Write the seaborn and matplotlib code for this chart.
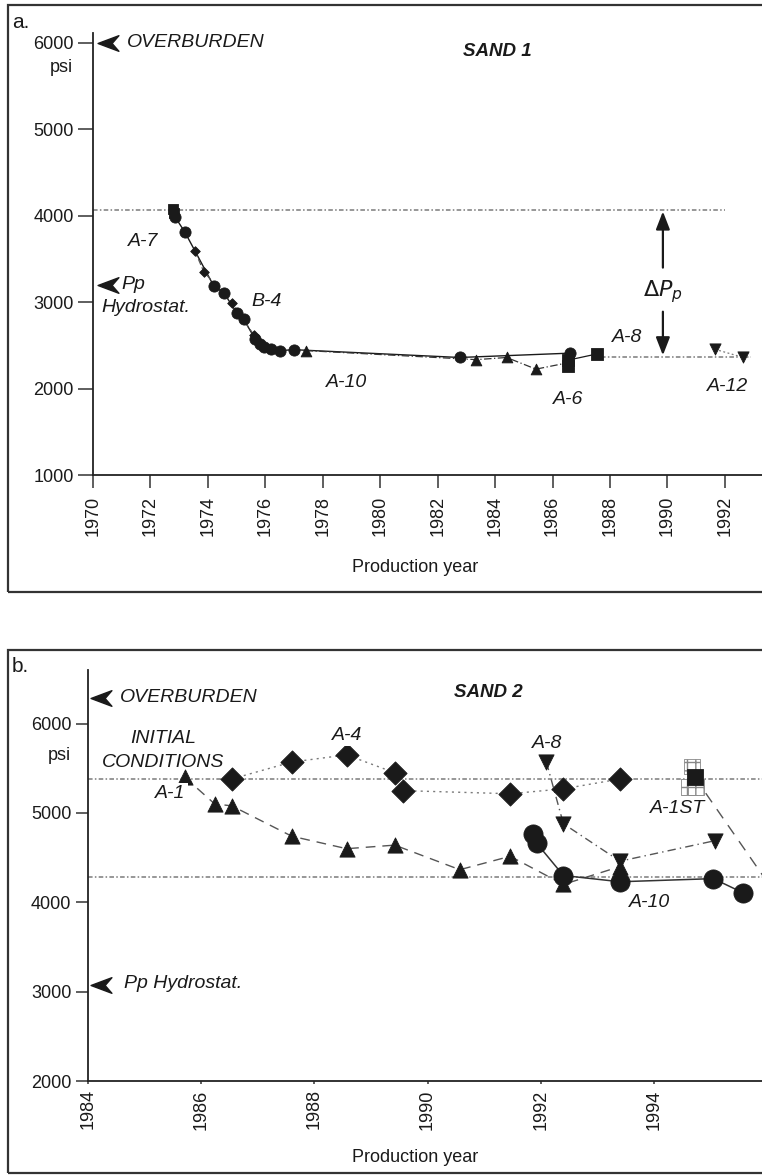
import numpy as np
import pandas as pd
import matplotlib
matplotlib.use("Agg")
import matplotlib.pyplot as plt
import seaborn as sns
from matplotlib.path import Path
from matplotlib.patches import Rectangle

# ---------------- Panel a: SAND 1 ----------------
a_a7_sq_year = [1972.78, 1972.82]
a_a7_sq_psi = [4075, 4035]
a_a7_year = [1972.85, 1973.2, 1974.2, 1974.55, 1975.0, 1975.25, 1975.65, 1975.8,
             1975.95, 1976.2, 1976.5, 1977.0, 1982.77, 1986.6]
a_a7_psi = [3990, 3810, 3190, 3110, 2880, 2800, 2570, 2515, 2480, 2455, 2440, 2450,
            2360, 2410]
a_b4_year = [1973.55, 1973.86, 1974.83, 1975.6]
a_b4_psi = [3590, 3350, 2995, 2620]
a_a10_year = [1977.4, 1983.35, 1984.4, 1985.42, 1986.55]
a_a10_psi = [2440, 2335, 2360, 2225, 2300]
a_a6_year = [1986.55, 1986.55, 1987.53]
a_a6_psi = [2265, 2330, 2400]
a_a12_year = [1991.65, 1992.64]
a_a12_psi = [2455, 2360]
a_initial = 4070
a_current = 2365
a_overburden = 6000
a_hydro = 3200
a_xticks = list(range(1970, 1993, 2))
a_yticks = [1000, 2000, 3000, 4000, 5000, 6000]

# ---------------- Panel b: SAND 2 ----------------
b_a4_year = [1986.54, 1987.6, 1988.57, 1989.42, 1989.57, 1991.46, 1992.4, 1993.4]
b_a4_psi = [5380, 5570, 5650, 5450, 5250, 5215, 5270, 5380]
b_a1_year = [1985.71, 1986.24, 1986.54, 1987.6, 1988.57, 1989.42, 1990.57, 1991.46,
             1992.4, 1993.4]
b_a1_psi = [5400, 5100, 5080, 4740, 4600, 4640, 4365, 4515, 4200, 4400]
b_a8_year = [1992.1, 1992.4, 1993.4, 1995.08]
b_a8_psi = [5570, 4880, 4460, 4690]
b_a10_year = [1991.87, 1991.93, 1992.4, 1993.4, 1995.05, 1995.58]
b_a10_psi = [4770, 4660, 4300, 4230, 4265, 4105]
b_a1st_year = [1994.72, 1996.0]
b_a1st_psi = [5400, 4230]
b_a1st_old_year = [1994.62, 1994.74, 1994.68]
b_a1st_old_psi = [5290, 5290, 5520]
b_initial = 5382
b_current = 4281
b_overburden = 6290
b_hydro = 3080
b_xticks = list(range(1984, 1995, 2))
b_yticks = [2000, 3000, 4000, 5000, 6000]

# ---------------- style ----------------
sns.set_theme(style="white")
plt.rcParams["font.family"] = ["Liberation Sans", "DejaVu Sans"]
TICKFONT = ["Liberation Sans", "DejaVu Sans"]
NSIZE, XLSIZE = 13, 13
INK = "#1a1a1a"
GRAY = "#7a7a7a"
LSIZE = 14

W, H = 762, 1175
fig = plt.figure(figsize=(W / 100, H / 100), dpi=100)

axA = fig.add_axes([93 / W, 1 - 475 / H, (W - 93) / W, (475 - 33) / H])
axB = fig.add_axes([88 / W, 1 - 1081 / H, (W - 88) / W, (1081 - 670) / H])

# panel frames
for top, bot in [(5, 592), (650, 1173)]:
    fig.patches.append(Rectangle((8 / W, 1 - bot / H), 900 / W, (bot - top) / H,
                                 transform=fig.transFigure, fill=False,
                                 lw=1.6, ec="#333333"))

chev = Path([(-1, 0), (1, 0.75), (0.35, 0), (1, -0.75), (-1, 0)],
            [Path.MOVETO, Path.LINETO, Path.LINETO, Path.LINETO, Path.CLOSEPOLY])


def line(ax, xs, ys, **kw):
    df = pd.DataFrame({"year": xs, "psi": ys})
    sns.lineplot(data=df, x="year", y="psi", ax=ax, sort=False, estimator=None,
                 legend=False, **kw)


def pts(ax, xs, ys, marker, s, **kw):
    df = pd.DataFrame({"year": xs, "psi": ys})
    kw.setdefault("color", INK)
    kw.setdefault("edgecolor", INK)
    sns.scatterplot(data=df, x="year", y="psi", ax=ax, marker=marker, s=s,
                    linewidth=0.6, legend=False, zorder=5, **kw)


def label(ax, x, y, txt, size=LSIZE, ha="center", bg=True, **kw):
    bbox = dict(boxstyle="square,pad=0.12", fc="white", ec="none") if bg else None
    ax.text(x, y, txt, fontsize=size, style="italic", ha=ha, va="center",
            color=INK, bbox=bbox, zorder=6, **kw)


def style_axis(ax, xlim, ylim, xticks, yticks, xtick_len, ytick_len, xpad):
    ax.set_xlim(*xlim)
    ax.set_ylim(*ylim)
    ax.set_xticks(xticks)
    ax.set_yticks(yticks)
    ax.set_xticklabels([str(t) for t in xticks], rotation=90, family=TICKFONT,
                       fontsize=NSIZE, color=INK)
    ax.set_yticklabels([str(t) for t in yticks], family=TICKFONT, fontsize=NSIZE,
                       color=INK)
    ax.tick_params(axis="x", length=xtick_len, width=1.1, color="#333333",
                   pad=xpad, direction="out", bottom=True)
    ax.tick_params(axis="y", length=ytick_len, width=1.1, color="#333333",
                   pad=3, direction="out", left=True)
    for sp in ["top", "right"]:
        ax.spines[sp].set_visible(False)
    for sp in ["left", "bottom"]:
        ax.spines[sp].set_color("#222222")
        ax.spines[sp].set_linewidth(1.3)
    ax.set_xlabel("")
    ax.set_ylabel("")
    ax.patch.set_alpha(0)


# ================= Panel a =================
ax = axA
ax.plot([1970, 1992], [a_initial, a_initial], ls=(0, (3, 1.5, 1, 1.5)),
        color=GRAY, lw=1.1, zorder=1)
ax.plot([1987.7, 1992.9], [a_current, a_current], ls=(0, (3, 1.5, 1, 1.5)),
        color=GRAY, lw=1.1, zorder=1)

line(ax, a_a7_year, a_a7_psi, color=INK, lw=1.0)
line(ax, a_b4_year, a_b4_psi, color="#555555", lw=0.9, linestyle=(0, (5, 2)))
line(ax, a_a10_year, a_a10_psi, color="#333333", lw=0.9, linestyle=(0, (6, 2, 1, 2)))
line(ax, a_a6_year[1:], a_a6_psi[1:], color=INK, lw=0.9)
line(ax, a_a12_year, a_a12_psi, color=GRAY, lw=0.9, linestyle=(0, (1.5, 2)))

pts(ax, a_a7_sq_year, a_a7_sq_psi, "s", 60)
pts(ax, a_a7_year, a_a7_psi, "o", 65)
pts(ax, a_b4_year, a_b4_psi, "D", 24)
pts(ax, a_a10_year, a_a10_psi, "^", 60)
pts(ax, a_a6_year, a_a6_psi, "s", 65)
pts(ax, a_a12_year, a_a12_psi, "v", 65)
style_axis(ax, (1970, 1993.29), (1000, 6115), a_xticks, a_yticks, 9, 11, 6)

ax.plot([0.022], [a_overburden], transform=ax.get_yaxis_transform(), marker=chev,
        ms=15, color=INK, clip_on=False, zorder=7)
ax.plot([0.022], [a_hydro], transform=ax.get_yaxis_transform(), marker=chev,
        ms=15, color=INK, clip_on=False, zorder=7)

label(ax, 1971.18, 6006, "OVERBURDEN", ha="left", bg=False)
ax.text(1984.06, 5900, "SAND 1", fontsize=13.5, style="italic", weight="bold",
        ha="center", va="center", color=INK)
label(ax, 1971.74, 3705, "A-7")
label(ax, 1971.0, 3200, "Pp", ha="left", bg=False)
label(ax, 1970.31, 2942, "Hydrostat.", ha="left", bg=False)
label(ax, 1976.06, 3012, "B-4")
label(ax, 1978.84, 2075, "A-10")
label(ax, 1986.53, 1879, "A-6")
label(ax, 1988.59, 2595, "A-8")
label(ax, 1992.1, 2029, "A-12")
ax.text(1989.84, 3127, r"$\Delta P_p$", fontsize=16, ha="center", va="center",
        color=INK, math_fontfamily="dejavusans")
ax.annotate("", xy=(1989.84, a_initial - 20), xytext=(1989.84, 3400),
            arrowprops=dict(arrowstyle="-|>,head_length=0.9,head_width=0.35",
                            color=INK, lw=1.6, shrinkA=0, shrinkB=0))
ax.annotate("", xy=(1989.84, a_current + 20), xytext=(1989.84, 2890),
            arrowprops=dict(arrowstyle="-|>,head_length=0.9,head_width=0.35",
                            color=INK, lw=1.6, shrinkA=0, shrinkB=0))

# ================= Panel b =================
ax = axB
ax.plot([1984, 1996], [b_initial, b_initial], ls=(0, (3, 1.5, 1, 1.5)),
        color=GRAY, lw=1.1, zorder=1)
ax.plot([1984, 1996], [b_current, b_current], ls=(0, (3, 1.5, 1, 1.5)),
        color=GRAY, lw=1.1, zorder=1)

line(ax, b_a4_year, b_a4_psi, color=GRAY, lw=1.0, linestyle=(0, (1.5, 3)))
line(ax, b_a1_year, b_a1_psi, color="#555555", lw=1.0, linestyle=(0, (7, 5)))
line(ax, b_a8_year, b_a8_psi, color="#555555", lw=1.0, linestyle=(0, (6, 3, 1, 3)))
line(ax, b_a10_year, b_a10_psi, color="#333333", lw=1.1)
line(ax, b_a1st_year, b_a1st_psi, color="#555555", lw=1.0, linestyle=(0, (8, 6)))

pts(ax, b_a4_year, b_a4_psi, "D", 140)
pts(ax, b_a1_year, b_a1_psi, "^", 120)
pts(ax, b_a8_year, b_a8_psi, "v", 120)
pts(ax, b_a10_year, b_a10_psi, "o", 190)
pts(ax, b_a1st_old_year, b_a1st_old_psi, "s", 130, color="white",
    edgecolor="#888888", hatch="++")
pts(ax, b_a1st_year[:1], b_a1st_psi[:1], "s", 140)
style_axis(ax, (1984, 1995.91), (2000, 6600), b_xticks, b_yticks, 2, 9, 4)

ax.plot([0.02], [b_overburden], transform=ax.get_yaxis_transform(), marker=chev,
        ms=15, color=INK, clip_on=False, zorder=7)
ax.plot([0.02], [b_hydro], transform=ax.get_yaxis_transform(), marker=chev,
        ms=15, color=INK, clip_on=False, zorder=7)

label(ax, 1984.57, 6290, "OVERBURDEN", ha="left", bg=False)
ax.text(1991.07, 6346, "SAND 2", fontsize=13.5, style="italic", weight="bold",
        ha="center", va="center", color=INK)
label(ax, 1985.33, 5832, "INITIAL", bg=False)
label(ax, 1985.33, 5564, "CONDITIONS", bg=False)
label(ax, 1985.45, 5218, "A-1")
label(ax, 1988.58, 5866, "A-4")
label(ax, 1992.11, 5777, "A-8")
label(ax, 1994.41, 5050, "A-1ST")
label(ax, 1993.93, 4000, "A-10")
label(ax, 1984.64, 3095, "Pp Hydrostat.", ha="left", bg=False)

# panel letters, psi units, axis titles
fig.text(12 / W, 1 - 23 / H, "a.", fontsize=15, color=INK, va="center", ha="left")
fig.text(12 / W, 1 - 667 / H, "b.", fontsize=15, color=INK, va="center", ha="left")
fig.text(73 / W, 1 - 68 / H, "psi", fontsize=NSIZE, color=INK, va="center",
         ha="right", family=TICKFONT)
fig.text(71 / W, 1 - 755 / H, "psi", fontsize=NSIZE, color=INK, va="center",
         ha="right", family=TICKFONT)
fig.text(415 / W, 1 - 568 / H, "Production year", fontsize=XLSIZE, color=INK,
         ha="center", va="center", family=TICKFONT)
fig.text(415 / W, 1 - 1158 / H, "Production year", fontsize=XLSIZE, color=INK,
         ha="center", va="center", family=TICKFONT)

fig.savefig("out.png", dpi=100)
